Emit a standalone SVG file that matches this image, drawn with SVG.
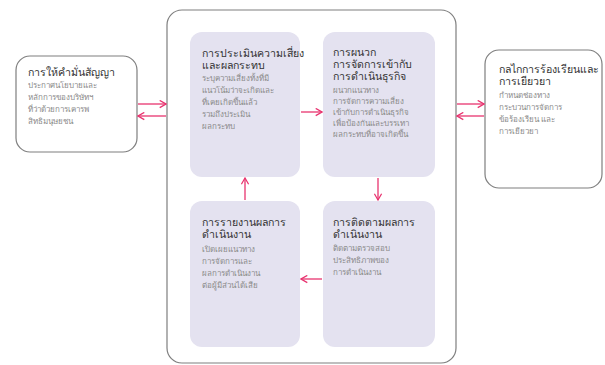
<svg xmlns="http://www.w3.org/2000/svg" width="605" height="365" viewBox="0 0 605 365">
  <defs>
    <marker id="head" viewBox="0 0 10 10" refX="9" refY="5" markerWidth="9" markerHeight="9" markerUnits="userSpaceOnUse" orient="auto">
      <path d="M2,1 L9,5 L2,9" fill="none" stroke="#e8336f" stroke-width="1.4"/>
    </marker>
  </defs>
  <style>
    .frame { fill: #ffffff; stroke: #7f7f7f; stroke-width: 1.2; }
    .step { fill: #e4e2f0; }
    .title { font-family: "Noto Sans", "DejaVu Sans", sans-serif; font-size: 10.6px; fill: #333333; }
    .body { font-family: "Noto Sans", "DejaVu Sans", sans-serif; font-size: 8px; fill: #8a8a8a; }
    .link { stroke: #e8336f; stroke-width: 1.3; fill: none; marker-end: url(#head); }
  </style>

  <rect width="605" height="365" fill="#ffffff"/>

  <!-- outer frame around the due diligence cycle -->
  <g id="cycle-frame">
    <rect class="frame" x="167" y="10" width="289" height="353" rx="15"/>
  </g>

  <!-- policy commitment -->
  <g id="commitment">
    <rect class="frame" x="16" y="56" width="121" height="96" rx="14"/>
    <text class="title" x="28" y="76">การให้คำมั่นสัญญา</text>
    <text class="body" x="28" y="88">ประกาศนโยบายและ</text>
    <text class="body" x="28" y="100">หลักการของบริษัทฯ</text>
    <text class="body" x="28" y="112">ที่ว่าด้วยการเคารพ</text>
    <text class="body" x="28" y="124">สิทธิมนุษยชน</text>
  </g>

  <!-- grievance and remedy -->
  <g id="grievance">
    <rect class="frame" x="485" y="50" width="117" height="138" rx="14"/>
    <text class="title" x="499" y="73">กลไกการร้องเรียนและ</text>
    <text class="title" x="499" y="85">การเยียวยา</text>
    <text class="body" x="499" y="98">กำหนดช่องทาง</text>
    <text class="body" x="499" y="110">กระบวนการจัดการ</text>
    <text class="body" x="499" y="122">ข้อร้องเรียน และ</text>
    <text class="body" x="499" y="134">การเยียวยา</text>
  </g>

  <!-- step 1: assess -->
  <g id="assess">
    <rect class="step" x="190" y="32" width="110" height="145" rx="12"/>
    <text class="title" x="202" y="57">การประเมินความเสี่ยง</text>
    <text class="title" x="202" y="69">และผลกระทบ</text>
    <text class="body" x="202" y="81">ระบุความเสี่ยงทั้งที่มี</text>
    <text class="body" x="202" y="93">แนวโน้มว่าจะเกิดและ</text>
    <text class="body" x="202" y="105">ที่เคยเกิดขึ้นแล้ว</text>
    <text class="body" x="202" y="117">รวมถึงประเมิน</text>
    <text class="body" x="202" y="129">ผลกระทบ</text>
  </g>

  <!-- step 2: integrate -->
  <g id="integrate">
    <rect class="step" x="323" y="32" width="112" height="145" rx="12"/>
    <text class="title" x="333" y="56">การผนวก</text>
    <text class="title" x="333" y="68">การจัดการเข้ากับ</text>
    <text class="title" x="333" y="80">การดำเนินธุรกิจ</text>
    <text class="body" x="333" y="93">ผนวกแนวทาง</text>
    <text class="body" x="333" y="104">การจัดการความเสี่ยง</text>
    <text class="body" x="333" y="115">เข้ากับการดำเนินธุรกิจ</text>
    <text class="body" x="333" y="126">เพื่อป้องกันและบรรเทา</text>
    <text class="body" x="333" y="137">ผลกระทบที่อาจเกิดขึ้น</text>
  </g>

  <!-- step 3: track -->
  <g id="track">
    <rect class="step" x="323" y="201" width="112" height="146" rx="12"/>
    <text class="title" x="333" y="226">การติดตามผลการ</text>
    <text class="title" x="333" y="238">ดำเนินงาน</text>
    <text class="body" x="333" y="251">ติดตามตรวจสอบ</text>
    <text class="body" x="333" y="263">ประสิทธิภาพของ</text>
    <text class="body" x="333" y="275">การดำเนินงาน</text>
  </g>

  <!-- step 4: report -->
  <g id="report">
    <rect class="step" x="190" y="201" width="110" height="146" rx="12"/>
    <text class="title" x="202" y="226">การรายงานผลการ</text>
    <text class="title" x="202" y="238">ดำเนินงาน</text>
    <text class="body" x="202" y="252">เปิดเผยแนวทาง</text>
    <text class="body" x="202" y="264">การจัดการและ</text>
    <text class="body" x="202" y="276">ผลการดำเนินงาน</text>
    <text class="body" x="202" y="288">ต่อผู้มีส่วนได้เสีย</text>
  </g>

  <!-- connectors -->
  <g id="connectors">
    <line class="link" x1="138" y1="104" x2="166" y2="104"/>
    <line class="link" x1="166" y1="116" x2="138" y2="116"/>
    <line class="link" x1="457" y1="104" x2="484" y2="104"/>
    <line class="link" x1="484" y1="116" x2="457" y2="116"/>
    <line class="link" x1="301" y1="112" x2="322" y2="112"/>
    <line class="link" x1="378" y1="178" x2="378" y2="200"/>
    <line class="link" x1="322" y1="279" x2="301" y2="279"/>
    <line class="link" x1="245" y1="200" x2="245" y2="178"/>
  </g>
</svg>
